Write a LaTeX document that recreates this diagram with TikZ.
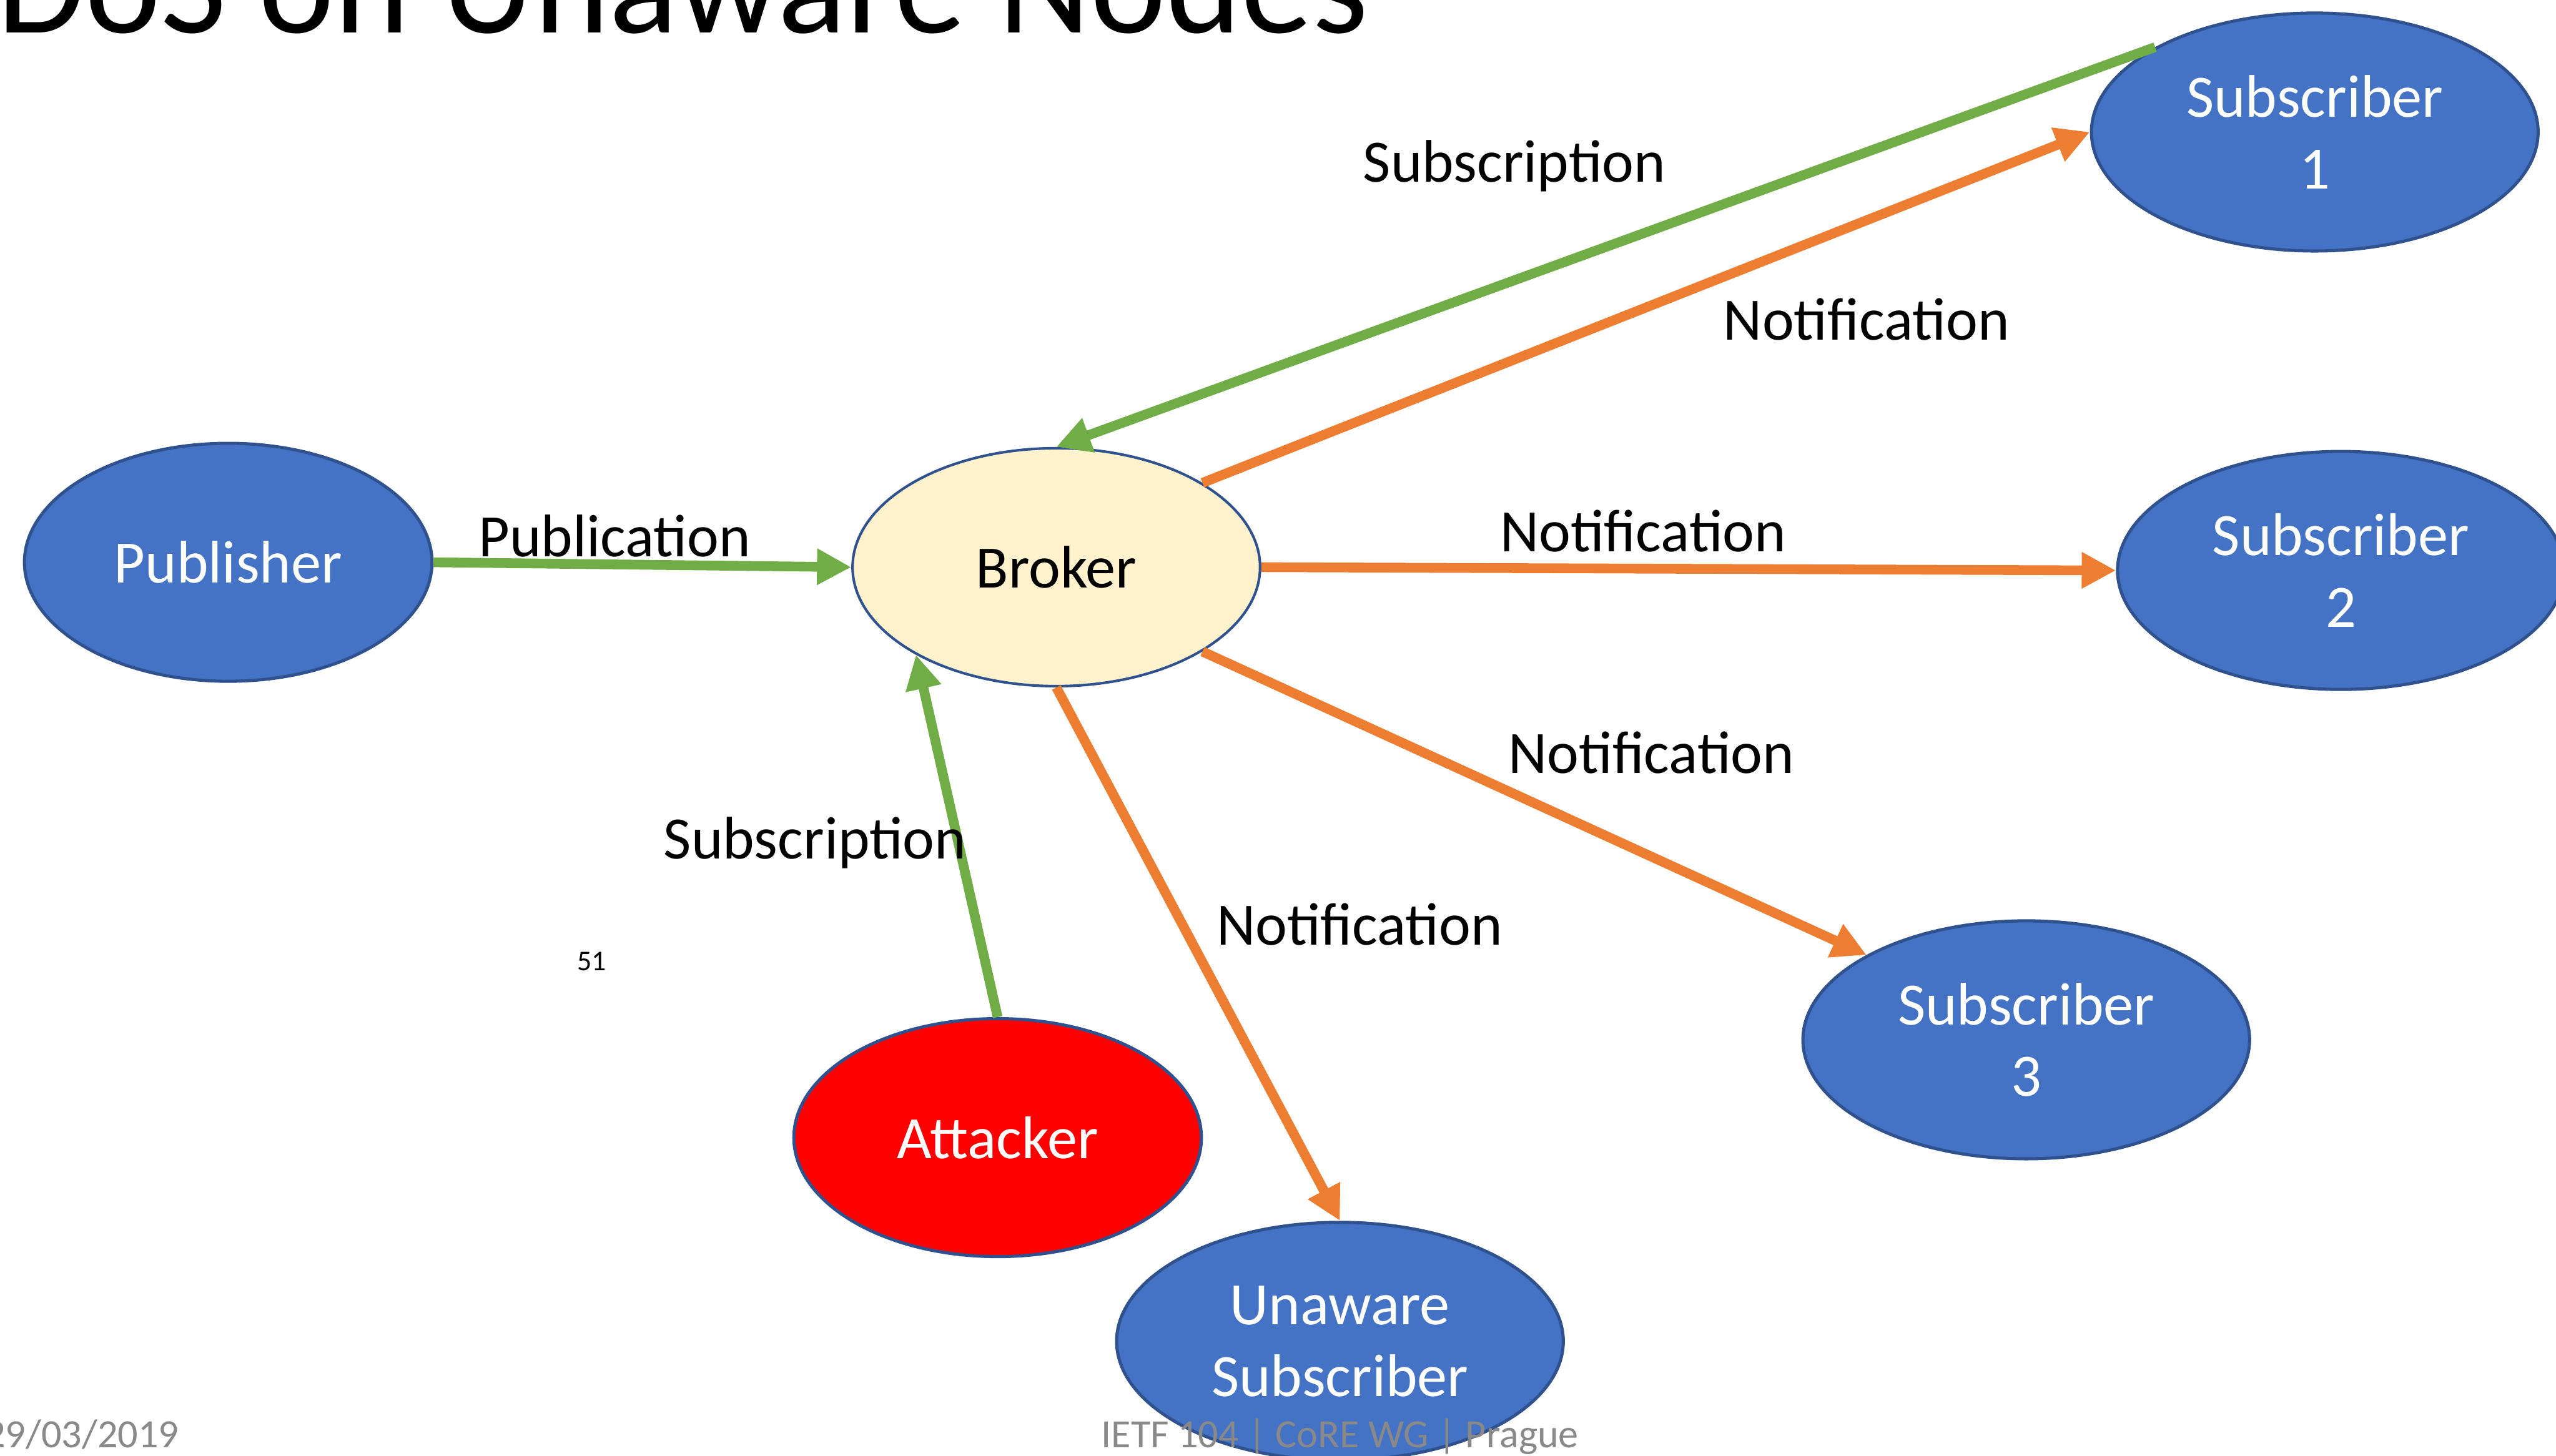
\documentclass[tikz,border=0pt]{standalone}
\usepackage{fontspec}
\setmainfont{Carlito}
\usetikzlibrary{shapes.geometric,arrows.meta}
\definecolor{nodeblue}{HTML}{4472C4}
\definecolor{rimblue}{HTML}{2F528F}
\definecolor{subgreen}{HTML}{70AD47}
\definecolor{notorange}{HTML}{ED7D31}
\definecolor{brokerfill}{HTML}{FFF2CC}
\definecolor{footgray}{HTML}{898989}

\begin{document}
\begin{tikzpicture}
			\useasboundingbox (0,0) rectangle (31.36,-17.86);
			\tikzset{ell/.style={ellipse, draw=rimblue, line width=1.1pt, fill=nodeblue, text=white, inner sep=0pt,
				minimum width=5.48cm, minimum height=2.92cm, align=center,
				font=\fontsize{21}{25}\selectfont},
				lbl/.style={font=\fontsize{21}{25}\selectfont, inner sep=0pt},
				edge/.style={line width=3.4pt, -{Triangle[length=4.2mm,width=4.2mm]}},
				sub/.style={edge, subgreen},
				note/.style={edge, notorange}}
			% title
			\node[anchor=base east, font=\fontsize{50}{56}\selectfont, inner sep=0pt](title) at (16.8,-0.4){DoS on Unaware Nodes};
			% nodes
			\node[ell, minimum width=5cm](pub) at (2.8,-6.9){Publisher};
			\node[ell, minimum width=5cm, fill=brokerfill, text=black, line width=0.9pt](broker) at (12.96,-6.96){Broker};
			\node[ell](sub1) at (28.4,-1.62){Subscriber\\1};
			\node[ell](sub2) at (28.72,-7.0){Subscriber\\2};
			\node[ell](sub3) at (24.86,-12.76){Subscriber\\3};
			\node[ell, minimum width=5cm, fill=red](att) at (12.24,-13.96){Attacker};
			\node[ell](unaware) at (16.44,-16.46){Unaware\\Subscriber};
			% connectors
			\draw[sub](pub.east) -- (broker.west);
			\draw[sub](sub1.152) -- (broker.north);
			\draw[note](broker.30) -- (sub1.west);
			\draw[note](broker.east) -- (sub2.west);
			\draw[note](broker.-30) -- (sub3.152);
			\draw[note](broker.south) -- (unaware.north);
			\draw[sub](att.north) -- (broker.212);
			% labels
			\node[lbl](lpub) at (7.54,-6.58){Publication};
			\node[lbl](lsub1) at (18.58,-2.04){Subscription};
			\node[lbl](lnot1) at (22.9,-3.92){Notification};
			\node[lbl](lnot2) at (20.16,-6.52){Notification};
			\node[lbl](lnot3) at (20.26,-9.24){Notification};
			\node[lbl](lsubatt) at (10.0,-10.34){Subscription};
			\node[lbl](lnotun) at (16.68,-11.34){Notification};
			\node[font=\fontsize{10}{12}\selectfont, inner sep=0pt](num) at (7.26,-11.8){51};
			% footer
			\node[anchor=base east, text=footgray, font=\fontsize{14}{16}\selectfont, inner sep=0pt](date) at (2.2,-17.76){29/03/2019};
			\node[anchor=base, text=footgray, font=\fontsize{14}{16}\selectfont, inner sep=0pt](foot) at (16.44,-17.76){IETF 104 | CoRE WG | Prague};
		\end{tikzpicture}
\end{document}
